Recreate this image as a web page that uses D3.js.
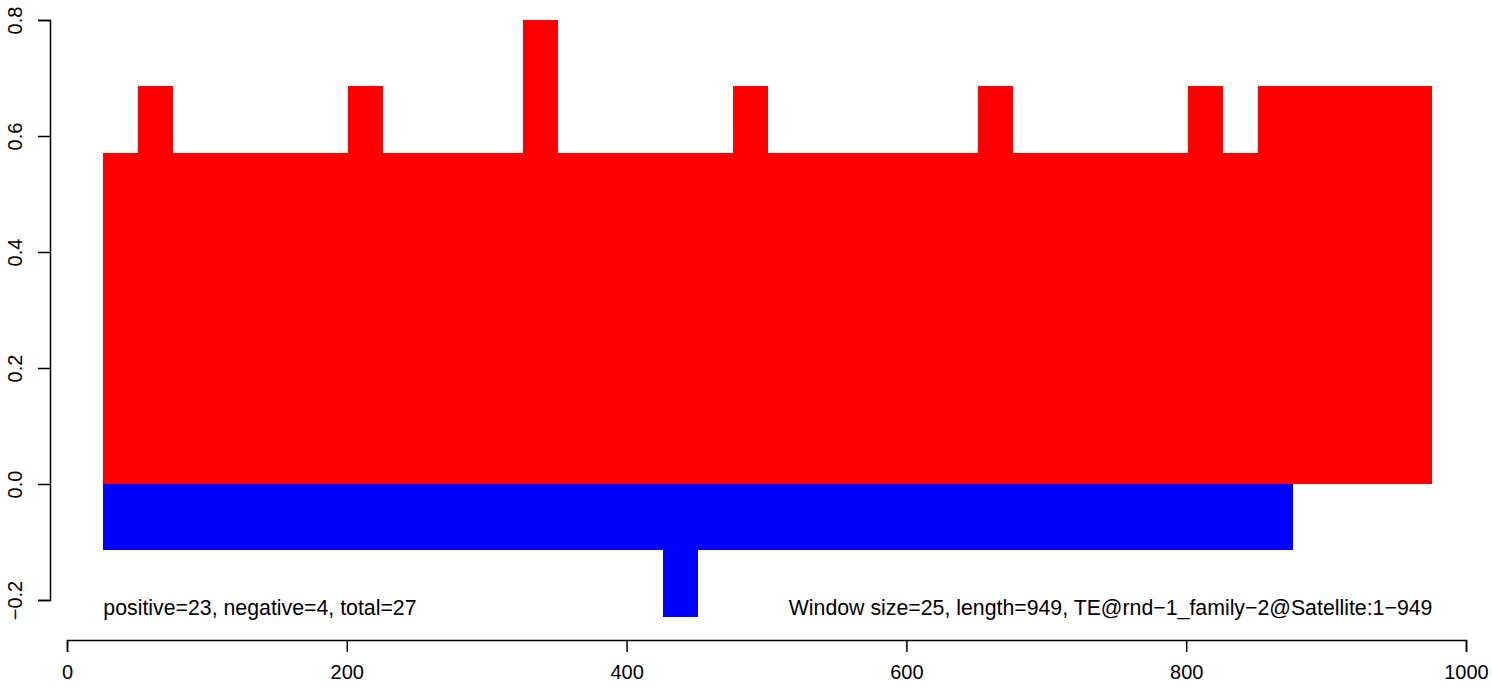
<!DOCTYPE html>
<html><head><meta charset="utf-8">
<script src="https://cdn.jsdelivr.net/npm/d3@7"></script>
<style>body{margin:0;background:#fff}svg{display:block}text{font-family:"Liberation Sans",Arial,sans-serif}</style>
</head><body><svg id="c" width="1492" height="691"></svg>
<script>
const windowSize = 25;
const posStarts = [26,51,76,101,126,151,176,201,226,251,276,301,326,351,376,401,426,451,476,501,526,551,576,601,626,651,676,701,726,751,776,801,826,851,876,901,926,951];
const posValues = [0.571,0.686,0.571,0.571,0.571,0.571,0.571,0.686,0.571,0.571,0.571,0.571,0.8,0.571,0.571,0.571,0.571,0.571,0.686,0.571,0.571,0.571,0.571,0.571,0.571,0.686,0.571,0.571,0.571,0.571,0.571,0.686,0.571,0.686,0.686,0.686,0.686,0.686];
const negStarts = [26,51,76,101,126,151,176,201,226,251,276,301,326,351,376,401,426,451,476,501,526,551,576,601,626,651,676,701,726,751,776,801,826,851];
const negValues = [-0.114,-0.114,-0.114,-0.114,-0.114,-0.114,-0.114,-0.114,-0.114,-0.114,-0.114,-0.114,-0.114,-0.114,-0.114,-0.114,-0.229,-0.114,-0.114,-0.114,-0.114,-0.114,-0.114,-0.114,-0.114,-0.114,-0.114,-0.114,-0.114,-0.114,-0.114,-0.114,-0.114,-0.114];
const xTicks = [0,200,400,600,800,1000];
const yTicks = [-0.2,0.0,0.2,0.4,0.6,0.8];
const leftLabel = "positive=23, negative=4, total=27";
const rightLabel = "Window size=25, length=949, TE@rnd\u22121_family\u22122@Satellite:1\u2212949";

const svg = d3.select("#c");
const x = d3.scaleLinear().domain([0,1000]).range([67,1466]);
const y = d3.scaleLinear().domain([-0.2,0.8]).range([600,20]);

const pos = posStarts.map((s,i)=>({s, v:posValues[i]}));
const neg = negStarts.map((s,i)=>({s, v:negValues[i]}));

svg.append("g").selectAll("rect").data(pos).join("rect")
  .attr("x", d=>x(d.s)).attr("width", d=>x(d.s+windowSize)-x(d.s))
  .attr("y", d=>y(d.v)).attr("height", d=>y(0)-y(d.v))
  .attr("fill","#ff0000").attr("shape-rendering","crispEdges");
svg.append("g").selectAll("rect").data(neg).join("rect")
  .attr("x", d=>x(d.s)).attr("width", d=>x(d.s+windowSize)-x(d.s))
  .attr("y", y(0)).attr("height", d=>y(d.v)-y(0))
  .attr("fill","#0000ff").attr("shape-rendering","crispEdges");

const fs = 20;
const xa = svg.append("g").attr("transform","translate(0,640)")
  .call(d3.axisBottom(x).tickValues(xTicks).tickSizeOuter(0).tickSize(12).tickFormat(d3.format("d")));
xa.selectAll("path,line").attr("stroke","#000").attr("stroke-width",1.5);
xa.selectAll("text").attr("font-size",fs).attr("fill","#000").attr("font-family","Liberation Sans, Arial").attr("y",25).attr("dy","0.71em");

const ya = svg.append("g").attr("transform","translate(50,0)")
  .call(d3.axisLeft(y).tickValues(yTicks).tickSizeOuter(0).tickSize(12).tickFormat(d=>d3.format(".1f")(d).replace("-","\u2212")));
ya.selectAll("path,line").attr("stroke","#000").attr("stroke-width",1.5);
ya.selectAll("text").attr("font-size",fs).attr("fill","#000").attr("font-family","Liberation Sans, Arial")
  .attr("text-anchor","middle").attr("x",null).attr("dy",null)
  .attr("transform","translate(-28,0) rotate(-90)").attr("y",0);

svg.append("text").attr("x", x(26)).attr("y", 615).attr("font-size",21.3).text(leftLabel);
svg.append("text").attr("x", x(976)).attr("y", 615).attr("font-size",21.3).attr("text-anchor","end").text(rightLabel);
</script></body></html>
